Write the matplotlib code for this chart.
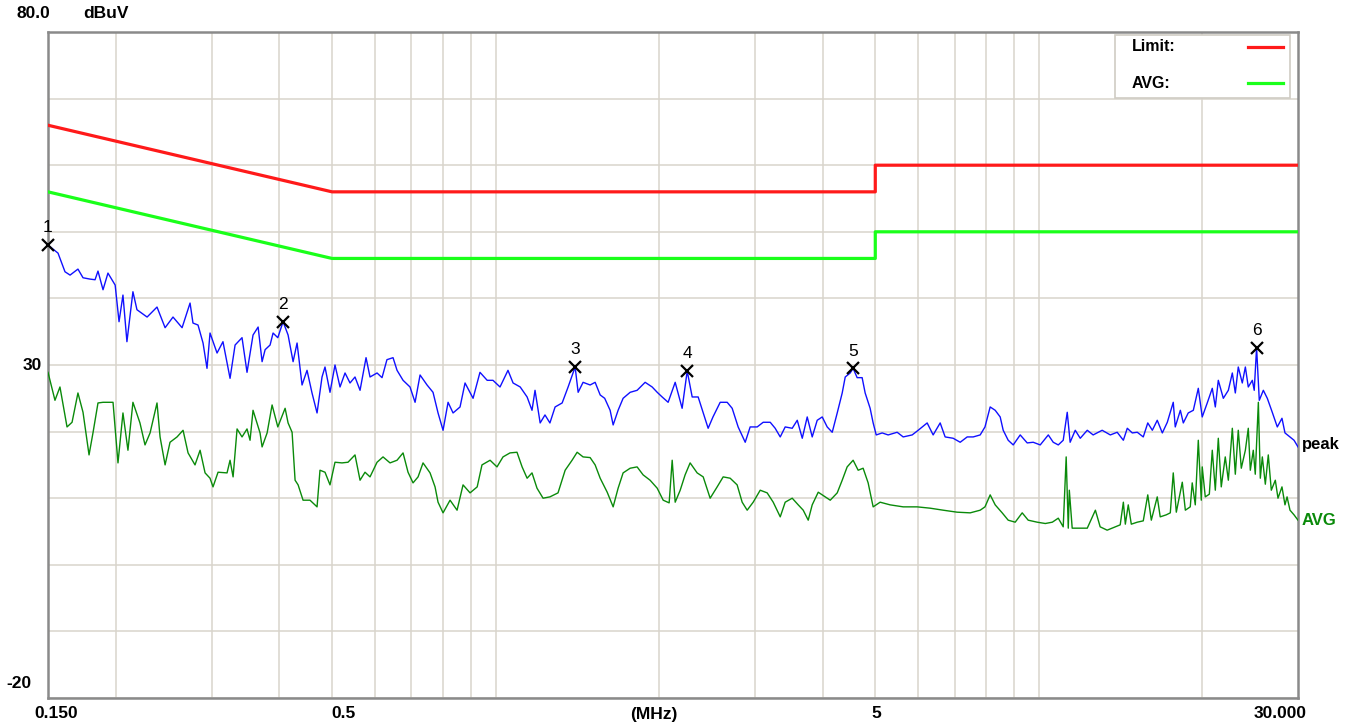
import numpy as np
import matplotlib
matplotlib.use("Agg")
import matplotlib.pyplot as plt
from matplotlib.patches import Rectangle

plt.rcParams['font.family'] = ['Liberation Sans Narrow', 'Liberation Sans', 'DejaVu Sans']

# ---------------- data ----------------
limit_freq = [0.15, 0.5, 5.0, 5.0, 30.0]
limit_qp = [66.0, 56.0, 56.0, 60.0, 60.0]
limit_avg = [56.0, 46.0, 46.0, 50.0, 50.0]

peak_freq = [
    0.150, 0.1565, 0.1612, 0.1647, 0.1703, 0.1740, 0.1792, 0.1831, 0.1854, 0.1894,
    0.1934, 0.1994, 0.2027, 0.2061, 0.2096, 0.2150, 0.2187, 0.2283, 0.2381, 0.2464,
    0.2548, 0.2648, 0.2739, 0.2773, 0.2833, 0.2894, 0.2943, 0.2981, 0.3071, 0.3149,
    0.3245, 0.3315, 0.3414, 0.3487, 0.3577, 0.3655, 0.3717, 0.3765, 0.3845, 0.3894,
    0.3973, 0.4063, 0.4150, 0.4239, 0.4311, 0.4403, 0.4497, 0.4593, 0.4692, 0.4792,
    0.4853, 0.4957, 0.5063, 0.5172, 0.5283, 0.5396, 0.5511, 0.5630, 0.5775, 0.5873,
    0.6051, 0.6180, 0.6310, 0.6475, 0.6586, 0.6756, 0.6958, 0.7109, 0.7261, 0.7479,
    0.7671, 0.7836, 0.8004, 0.8176, 0.8351, 0.8602, 0.8786, 0.909, 0.936, 0.965,
    0.989, 1.019, 1.054, 1.077, 1.110, 1.143, 1.167, 1.182, 1.208, 1.233,
    1.259, 1.287, 1.326, 1.360, 1.401, 1.419, 1.449, 1.493, 1.525, 1.558,
    1.588, 1.625, 1.646, 1.681, 1.717, 1.769, 1.822, 1.885, 1.942, 1.984,
    2.026, 2.078, 2.141, 2.205, 2.253, 2.301, 2.360, 2.411, 2.462, 2.513,
    2.591, 2.669, 2.726, 2.796, 2.881, 2.942, 3.031, 3.109, 3.203, 3.271,
    3.342, 3.413, 3.516, 3.592, 3.669, 3.747, 3.827, 3.909, 3.993, 4.078,
    4.166, 4.255, 4.346, 4.402, 4.495, 4.552, 4.630, 4.729, 4.790, 4.892,
    4.955, 5.02, 5.148, 5.280, 5.486, 5.628, 5.846, 5.997, 6.230, 6.390,
    6.583, 6.723, 6.956, 7.166, 7.382, 7.572, 7.800, 7.96, 8.137, 8.312,
    8.490, 8.599, 8.783, 8.972, 9.242, 9.520, 9.765, 10.06, 10.41, 10.63,
    10.86, 11.09, 11.28, 11.42, 11.67, 11.92, 12.28, 12.59, 13.08, 13.54,
    13.94, 14.31, 14.55, 14.86, 15.18, 15.57, 15.87, 16.18, 16.52, 16.88,
    17.24, 17.68, 17.83, 18.22, 18.45, 18.84, 19.25, 19.66, 19.99, 20.42,
    20.86, 21.13, 21.40, 21.86, 22.33, 22.71, 23.00, 23.29, 23.69, 24.00,
    24.30, 24.72, 24.92, 25.17, 25.46, 25.90, 26.34, 26.90, 27.48, 28.03,
    28.39, 29.00, 29.50, 30.0,
]
peak_level = [
    48.0, 46.8, 44.0, 43.5, 44.4, 43.1, 42.9, 42.8, 44.1, 41.3,
    43.8, 42.0, 36.5, 40.5, 33.5, 41.0, 38.3, 37.2, 38.7, 35.6,
    37.2, 35.6, 39.3, 36.3, 36.0, 33.3, 29.5, 34.8, 31.8, 33.5,
    28.0, 33.0, 34.1, 28.9, 34.5, 35.7, 30.5, 32.3, 33.0, 34.8,
    34.1, 36.5, 34.5, 30.5, 33.3, 27.0, 29.2, 25.8, 22.8, 28.2,
    29.7, 25.9, 30.0, 26.7, 28.8, 27.3, 28.2, 26.2, 31.1, 28.2,
    28.8, 28.1, 30.8, 31.1, 29.2, 27.7, 26.7, 24.4, 28.5, 27.0,
    25.9, 22.8, 20.2, 24.4, 22.8, 23.7, 27.3, 25.0, 28.9, 27.7,
    27.7, 26.7, 29.2, 27.3, 26.7, 25.2, 23.2, 26.2, 21.3, 22.5,
    21.3, 23.7, 24.3, 26.7, 29.7, 25.9, 27.4, 27.0, 27.4, 25.5,
    25.0, 23.2, 21.0, 23.2, 25.0, 25.9, 26.2, 27.4, 26.7, 25.9,
    25.2, 24.4, 27.4, 23.5, 29.1, 25.2, 25.2, 22.8, 20.5, 22.2,
    24.4, 24.4, 23.5, 20.7, 18.4, 20.7, 20.7, 21.4, 21.4, 20.5,
    19.2, 20.7, 20.5, 21.7, 19.0, 22.2, 19.2, 21.7, 22.2, 20.7,
    19.9, 22.8, 25.8, 28.2, 28.8, 29.5, 28.1, 28.1, 25.8, 23.5,
    21.3, 19.5, 19.8, 19.5, 19.9, 19.2, 19.5, 20.2, 21.3, 19.5,
    21.3, 19.2, 19.0, 18.4, 19.2, 19.2, 19.5, 20.7, 23.7, 23.2,
    22.2, 20.2, 18.7, 18.0, 19.5, 18.3, 18.4, 18.0, 19.5, 18.4,
    18.0, 18.7, 22.9, 18.4, 20.2, 19.0, 20.2, 19.5, 20.2, 19.5,
    19.9, 18.7, 20.5, 19.8, 19.9, 19.2, 21.3, 20.2, 21.7, 19.8,
    21.4, 24.4, 20.7, 23.2, 21.3, 22.8, 23.2, 26.5, 22.2, 24.3,
    26.5, 23.7, 27.7, 25.0, 26.2, 28.8, 25.8, 29.7, 27.3, 29.7,
    26.7, 27.7, 26.2, 32.6, 24.7, 26.2, 25.0, 22.9, 20.7, 22.0,
    19.8, 19.2, 18.7, 17.7,
]

avg_freq = [
    0.150, 0.1545, 0.1578, 0.1626, 0.1661, 0.1703, 0.1740, 0.1785, 0.1815, 0.1854,
    0.1894, 0.1976, 0.2018, 0.2061, 0.2105, 0.2150, 0.2215, 0.2263, 0.2312, 0.2381,
    0.2412, 0.2464, 0.2516, 0.2592, 0.2659, 0.2716, 0.2797, 0.2858, 0.2919, 0.2981,
    0.3019, 0.3084, 0.3204, 0.3245, 0.3287, 0.3343, 0.3414, 0.3487, 0.3532, 0.3577,
    0.3685, 0.3717, 0.3797, 0.3878, 0.3973, 0.4098, 0.4150, 0.4221, 0.4275, 0.4330,
    0.4422, 0.4554, 0.4692, 0.4751, 0.4853, 0.4957, 0.5063, 0.5215, 0.5350, 0.5511,
    0.5630, 0.5750, 0.5873, 0.6051, 0.6206, 0.6393, 0.6586, 0.6756, 0.6900, 0.7048,
    0.7200, 0.7353, 0.7575, 0.7737, 0.7836, 0.8004, 0.8245, 0.8494, 0.8712, 0.8975,
    0.925, 0.944, 0.977, 1.006, 1.032, 1.063, 1.095, 1.119, 1.143, 1.167,
    1.192, 1.223, 1.259, 1.303, 1.343, 1.383, 1.413, 1.449, 1.493, 1.525,
    1.558, 1.605, 1.646, 1.681, 1.717, 1.769, 1.822, 1.869, 1.925, 1.984,
    2.035, 2.087, 2.114, 2.141, 2.187, 2.233, 2.281, 2.350, 2.411, 2.483,
    2.558, 2.624, 2.703, 2.784, 2.844, 2.905, 2.980, 3.070, 3.162, 3.244,
    3.342, 3.413, 3.516, 3.607, 3.684, 3.763, 3.827, 3.926, 4.044, 4.131,
    4.255, 4.346, 4.438, 4.552, 4.650, 4.749, 4.851, 4.955, 5.104, 5.325,
    5.628, 5.971, 6.310, 6.667, 7.074, 7.476, 7.800, 7.96, 8.137, 8.312,
    8.562, 8.783, 9.048, 9.320, 9.560, 9.93, 10.28, 10.59, 10.86, 11.09,
    11.23, 11.33, 11.38, 11.52, 11.77, 12.28, 12.55, 12.71, 12.97, 13.36,
    13.83, 14.12, 14.31, 14.43, 14.61, 14.80, 15.18, 15.57, 15.87, 16.11,
    16.52, 16.73, 17.16, 17.46, 17.68, 17.91, 18.37, 18.61, 19.00, 19.16,
    19.41, 19.66, 19.91, 19.99, 20.25, 20.60, 20.86, 21.13, 21.40, 21.67,
    22.04, 22.33, 22.71, 23.00, 23.29, 23.59, 24.00, 24.30, 24.51, 24.82,
    25.03, 25.36, 25.57, 25.79, 26.12, 26.45, 26.79, 27.25, 27.56, 28.03,
    28.39, 28.64, 29.00, 29.50, 30.0,
]
avg_level = [
    28.9, 24.7, 26.7, 20.7, 21.4, 25.8, 22.9, 16.5, 19.8, 24.3,
    24.4, 24.4, 15.3, 22.8, 17.2, 24.4, 21.3, 18.0, 19.8, 24.3,
    19.2, 15.0, 18.4, 19.2, 20.2, 16.8, 15.0, 17.2, 13.8, 13.0,
    11.7, 13.9, 13.8, 15.7, 13.2, 20.4, 19.2, 20.4, 18.7, 23.2,
    19.8, 17.7, 19.8, 24.0, 20.7, 23.5, 21.3, 19.9, 12.7, 12.0,
    9.7, 9.7, 8.7, 14.2, 13.9, 12.0, 15.4, 15.3, 15.4, 16.5,
    12.7, 13.9, 13.2, 15.4, 16.2, 15.3, 15.7, 16.8, 13.9, 12.3,
    13.2, 15.3, 13.8, 11.7, 9.4, 7.8, 9.7, 8.2, 12.0, 10.8,
    11.7, 15.0, 15.7, 14.7, 16.2, 16.8, 16.9, 14.7, 13.0, 13.8,
    11.5, 10.0, 10.2, 10.8, 14.2, 15.7, 16.9, 16.2, 16.1, 15.0,
    13.0, 10.9, 8.7, 11.5, 13.8, 14.5, 14.7, 13.5, 12.7, 11.5,
    9.7, 9.3, 15.7, 9.4, 11.2, 13.5, 15.3, 13.8, 13.2, 10.0,
    11.7, 13.2, 13.0, 12.0, 9.4, 8.2, 9.4, 11.2, 10.8, 9.4,
    7.2, 9.4, 10.0, 9.0, 8.2, 6.7, 9.0, 10.9, 10.2, 9.7,
    10.8, 12.7, 14.7, 15.7, 14.2, 14.5, 12.3, 8.7, 9.4, 9.0,
    8.7, 8.7, 8.5, 8.2, 7.9, 7.8, 8.2, 8.7, 10.5, 9.0,
    7.8, 6.7, 6.4, 7.8, 6.7, 6.4, 6.2, 6.4, 7.0, 5.7,
    16.2, 5.5, 11.2, 5.5, 5.5, 5.5, 7.2, 8.2, 5.7, 5.2,
    5.7, 6.0, 9.4, 6.1, 9.0, 6.1, 6.4, 6.6, 10.5, 6.7,
    10.2, 7.2, 7.5, 7.8, 13.8, 7.9, 12.4, 8.2, 8.7, 12.3,
    9.0, 18.7, 9.7, 14.7, 10.2, 10.6, 17.2, 11.2, 19.0, 11.7,
    16.2, 12.7, 20.5, 13.6, 20.2, 14.5, 17.2, 20.5, 14.2, 17.2,
    13.6, 24.4, 13.0, 16.2, 12.1, 16.5, 11.2, 12.7, 10.0, 11.7,
    9.0, 10.2, 8.2, 7.5, 6.7,
]

marker_freq = [0.150, 0.4063, 1.401, 2.253, 4.552, 25.17]
marker_names = ["1", "2", "3", "4", "5", "6"]

grid_levels = list(range(-20, 81, 10))
grid_freqs = [0.2, 0.3, 0.4, 0.5, 0.6, 0.7, 0.8, 0.9,
              1, 2, 3, 4, 5, 6, 7, 8, 9, 10, 20]

# ---------------- figure ----------------
W, H = 1346, 726
fig = plt.figure(figsize=(W / 100, H / 100), dpi=100)
fig.patch.set_facecolor("white")
ax = fig.add_axes([48 / W, 28 / H, 1250 / W, 666 / H])
ax.set_xscale("log")
ax.set_xlim(0.15, 30)
ax.set_ylim(-20, 80)
ax.set_xticks([])
ax.set_yticks([])
ax.xaxis.set_minor_locator(matplotlib.ticker.NullLocator())

grid_color = "#d8d4cc"
for lv in grid_levels:
    ax.axhline(lv, color=grid_color, lw=1.1, zorder=0)
for fq in grid_freqs:
    ax.axvline(fq, color=grid_color, lw=1.1, zorder=0)

for sp in ax.spines.values():
    sp.set_color("#8a8a8a")
    sp.set_linewidth(1.8)

# limit lines
ax.plot(limit_freq, limit_qp, color="#ff1a1a", lw=2.3, zorder=3)
ax.plot(limit_freq, limit_avg, color="#1aff1a", lw=2.3, zorder=3)

# measured traces
pf = np.array(peak_freq)
pl = np.array(peak_level)
ax.plot(pf, pl, color="#1010ff", lw=1.0, zorder=4)
ax.plot(avg_freq, avg_level, color="#0a8a0a", lw=1.0, zorder=4)

# marker crosses on the peak trace
for mf, name in zip(marker_freq, marker_names):
    i = int(np.argmin(np.abs(np.log(pf) - np.log(mf))))
    ax.plot(pf[i], pl[i], marker="x", color="black", ms=9, mew=1.6,
            zorder=6, clip_on=False)
    ax.annotate(name, (pf[i], pl[i]), xytext=(0, 7), textcoords="offset points",
                ha="center", va="bottom", fontsize=12.5, color="black",
                zorder=6, annotation_clip=False)

# legend box
ax.add_patch(Rectangle((0.8536, 0.9009), 0.140, 0.0946, transform=ax.transAxes,
                       facecolor="white", edgecolor="#d0ccc4", lw=1.2, zorder=7))
ax.text(0.8672, 0.9775, "Limit:", transform=ax.transAxes, ha="left", va="center",
        fontsize=11.5, fontweight="bold", zorder=8)
ax.text(0.8672, 0.9234, "AVG:", transform=ax.transAxes, ha="left", va="center",
        fontsize=11.5, fontweight="bold", zorder=8)
ax.plot([0.960, 0.988], [0.9775, 0.9775], transform=ax.transAxes,
        color="#ff1a1a", lw=2.3, zorder=8)
ax.plot([0.960, 0.988], [0.9234, 0.9234], transform=ax.transAxes,
        color="#1aff1a", lw=2.3, zorder=8)

# trace names at the right edge
ax.text(1.003, 0.380, "peak", transform=ax.transAxes, ha="left", va="center",
        fontsize=12, fontweight="bold", color="black")
ax.text(1.003, 0.266, "AVG", transform=ax.transAxes, ha="left", va="center",
        fontsize=12, fontweight="bold", color="#0a8a0a")

# axis annotations
def ftext(x, y, s, **kw):
    fig.text(x / W, 1 - y / H, s, fontsize=12.5, fontweight="bold", **kw)

ftext(33, 14, "80.0", ha="center", va="center")
ftext(83, 14, "dBuV", ha="left", va="center")
ftext(42, 365, "30", ha="right", va="center")
ftext(31, 683, "-20", ha="right", va="center")
ftext(56, 714, "0.150", ha="center", va="center")
ftext(344, 714, "0.5", ha="center", va="center")
ftext(654, 714, "(MHz)", ha="center", va="center")
ftext(876, 714, "5", ha="center", va="center")
ftext(1280, 714, "30.000", ha="center", va="center")

fig.savefig("out.png", dpi=100)
